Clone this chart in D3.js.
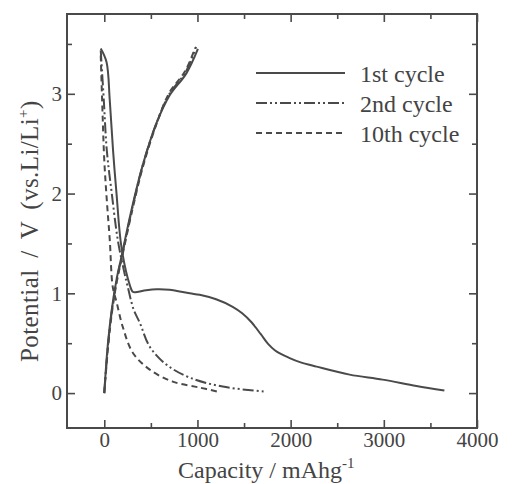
<!DOCTYPE html>
<html>
<head>
<meta charset="utf-8">
<script src="https://cdn.jsdelivr.net/npm/d3@7"></script>
<style>
body { margin: 0; background: #fff; }
text { font-family: "Liberation Serif", "DejaVu Serif", serif; fill: #444; }
</style>
</head>
<body>
<div id="chart"></div>
<script>
// 1st cycle
var cap1Dis = [-38, 24, 59, 94, 131, 184, 273, 306, 330, 450, 563, 700, 917, 1024, 1200, 1378, 1480, 1580, 1680, 1760, 1830, 1900, 1980, 2100, 2279, 2633, 2987, 3350, 3650];
var volt1Dis = [3.455, 3.32, 2.935, 2.435, 2.005, 1.465, 1.085, 1.015, 1.01, 1.03, 1.04, 1.035, 1.0, 0.985, 0.94, 0.865, 0.80, 0.71, 0.59, 0.49, 0.43, 0.39, 0.355, 0.31, 0.265, 0.185, 0.135, 0.07, 0.025];
var cap1Chg = [0, 38, 80, 131, 184, 292, 413, 560, 702, 881, 1005];
var volt1Chg = [0, 0.485, 0.835, 1.135, 1.365, 1.835, 2.285, 2.705, 2.985, 3.205, 3.45];
// 2nd cycle
var cap2Dis = [-38, -5, 27, 80, 145, 209, 252, 316, 381, 488, 667, 917, 1271, 1721];
var volt2Dis = [3.435, 2.935, 2.435, 2.005, 1.535, 1.235, 1.065, 0.835, 0.705, 0.465, 0.285, 0.155, 0.065, 0.015];
var cap2Chg = [0, 40, 82, 133, 186, 295, 415, 562, 700, 875, 985];
var volt2Chg = [0, 0.48, 0.83, 1.13, 1.36, 1.83, 2.29, 2.71, 3.0, 3.22, 3.47];
// 10th cycle
var cap10Dis = [-38, -16, 0, 27, 59, 91, 134, 198, 306, 488, 735, 1024, 1217];
var volt10Dis = [3.385, 2.735, 2.335, 1.935, 1.535, 1.065, 0.905, 0.665, 0.405, 0.235, 0.115, 0.055, 0.015];
var cap10Chg = [0, 42, 84, 135, 188, 297, 418, 565, 698, 870, 975];
var volt10Chg = [0, 0.47, 0.82, 1.12, 1.35, 1.82, 2.28, 2.71, 3.01, 3.23, 3.46];

var xMajor = [0, 1000, 2000, 3000, 4000];
var xMinor = [500, 1500, 2500, 3500];
var yMajor = [0, 1, 2, 3];
var yMinor = [0.5, 1.5, 2.5, 3.5];
var cycleNames = ["1st cycle", "2nd cycle", "10th cycle"];

var margin = {top: 14, right: 35, bottom: 56, left: 67};
var width = 512 - margin.left - margin.right;
var height = 484 - margin.top - margin.bottom;
var ink = "#4a4a4a";

var svg = d3.select("#chart")
  .append("svg")
  .attr("width", 512)
  .attr("height", 484)
  .append("g")
  .attr("transform", "translate(" + margin.left + "," + margin.top + ")");

var x = d3.scaleLinear().domain([-400, 4000]).range([0, width]);
var y = d3.scaleLinear().domain([-0.35, 3.8]).range([height, 0]);

function styleAxis(g) {
  g.attr("font-family", null);
  g.select(".domain").remove();
  g.selectAll("line").attr("stroke", ink).attr("stroke-width", 1.6);
  g.selectAll("text").attr("font-size", 21).attr("fill", ink);
}

// major ticks with labels
svg.append("g").attr("transform", "translate(0," + height + ")")
  .call(d3.axisBottom(x).tickValues(xMajor).tickSize(-8).tickPadding(4).tickFormat(d3.format("d")))
  .call(styleAxis);
svg.append("g")
  .call(d3.axisLeft(y).tickValues(yMajor).tickSize(-8).tickPadding(5).tickFormat(d3.format("d")))
  .call(styleAxis);
svg.append("g")
  .call(d3.axisTop(x).tickValues(xMajor).tickSize(-8).tickFormat(""))
  .call(styleAxis);
svg.append("g").attr("transform", "translate(" + width + ",0)")
  .call(d3.axisRight(y).tickValues(yMajor).tickSize(-8).tickFormat(""))
  .call(styleAxis);

// minor ticks
svg.append("g").attr("transform", "translate(0," + height + ")")
  .call(d3.axisBottom(x).tickValues(xMinor).tickSize(-5).tickFormat(""))
  .call(styleAxis);
svg.append("g")
  .call(d3.axisLeft(y).tickValues(yMinor).tickSize(-5).tickFormat(""))
  .call(styleAxis);
svg.append("g")
  .call(d3.axisTop(x).tickValues(xMinor).tickSize(-5).tickFormat(""))
  .call(styleAxis);
svg.append("g").attr("transform", "translate(" + width + ",0)")
  .call(d3.axisRight(y).tickValues(yMinor).tickSize(-5).tickFormat(""))
  .call(styleAxis);

// frame
svg.append("rect")
  .attr("width", width).attr("height", height)
  .attr("fill", "none").attr("stroke", ink).attr("stroke-width", 2);

var line = d3.line()
  .x(function(d) { return x(d[0]); })
  .y(function(d) { return y(d[1]); })
  .curve(d3.curveCatmullRom);

var dashes = [null, "11,3,2,3,2,3", "6,4"];
var curves = [
  [cap1Dis, volt1Dis, 0], [cap1Chg, volt1Chg, 0],
  [cap2Dis, volt2Dis, 1], [cap2Chg, volt2Chg, 1],
  [cap10Dis, volt10Dis, 2], [cap10Chg, volt10Chg, 2]
];

curves.forEach(function(c) {
  var pts = c[0].map(function(v, i) { return [v, c[1][i]]; });
  svg.append("path")
    .datum(pts)
    .attr("fill", "none")
    .attr("stroke", ink)
    .attr("stroke-width", 2)
    .attr("stroke-dasharray", dashes[c[2]])
    .attr("d", line);
});

// legend
var legend = svg.append("g");
cycleNames.forEach(function(name, i) {
  var ly = 59 + i * 30;
  legend.append("line")
    .attr("x1", 189).attr("x2", 278)
    .attr("y1", ly).attr("y2", ly)
    .attr("stroke", ink).attr("stroke-width", 2)
    .attr("stroke-dasharray", dashes[i]);
  legend.append("text")
    .attr("x", 293).attr("y", ly + 9)
    .attr("font-size", 24)
    .text(name);
});

// axis titles
var xt = svg.append("text")
  .attr("x", 111).attr("y", 464)
  .attr("font-size", 24);
xt.append("tspan").text("Capacity / mAhg");
xt.append("tspan").attr("dy", -10).attr("font-size", 15).text("-1");

var yt = svg.append("text")
  .attr("transform", "translate(-29,348) rotate(-90)")
  .attr("font-size", 25)
  .attr("word-spacing", 5)
  .attr("letter-spacing", 0.4);
yt.append("tspan").text("Potential / V (vs.Li/Li");
yt.append("tspan").attr("dy", -10).attr("font-size", 15).text("+");
yt.append("tspan").attr("dy", 10).text(")");
</script>
</body>
</html>
